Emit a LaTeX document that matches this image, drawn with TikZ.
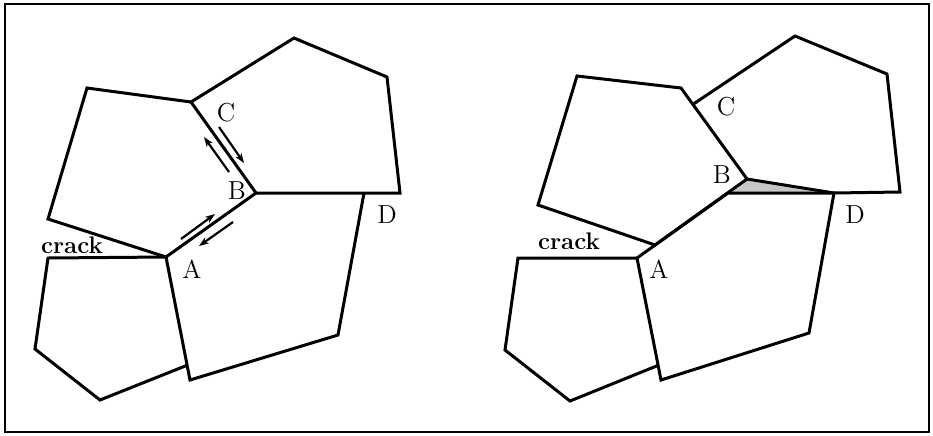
\documentclass[tikz,border=0pt]{standalone}
\usetikzlibrary{calc,arrows.meta}
\begin{document}
\begin{tikzpicture}[>={Stealth[length=5pt,width=3.6pt]}, x=0.5pt, y=-0.5pt,
  grain/.style={line width=1.5pt, line join=miter},
  slip/.style={->, line width=1.1pt},
  lbl/.style={font=\fontsize{13}{15}\selectfont, inner sep=0pt},
  crk/.style={font=\fontsize{12}{14}\selectfont\bfseries, inner sep=0pt}]
\useasboundingbox (0,0) rectangle (933,435);
\draw[line width=1.2pt] (5,4) rectangle (929,432);
% left panel: grains before sliding
\coordinate (lP1) at (87,88); \coordinate (lC) at (191,102); \coordinate (lB) at (256,193);
\coordinate (lA) at (166,257); \coordinate (lP5) at (48,219);
\coordinate (lQ1) at (294,38); \coordinate (lQ2) at (387,77); \coordinate (lQ3) at (400,193);
\coordinate (lD) at (364,193); \coordinate (lR1) at (338,335); \coordinate (lR2) at (190,380);
\coordinate (lK) at (48,258); \coordinate (lS1) at (35,349); \coordinate (lS2) at (100,400);
\coordinate (lS3) at ($(lA)!0.88!(lR2)$);
\draw[grain] (lP1)--(lC)--(lB)--(lA)--(lP5)--cycle;
\draw[grain] (lC)--(lQ1)--(lQ2)--(lQ3)--(lB);
\draw[grain] (lA)--(lR2)--(lR1)--(lD);
\draw[grain] (lA)--(lK)--(lS1)--(lS2)--(lS3);
\coordinate (s1a) at (229,172); \coordinate (s1b) at (204,137);
\coordinate (s2a) at (219,127); \coordinate (s2b) at (244,163);
\coordinate (s3a) at (181,239); \coordinate (s3b) at (215,214);
\coordinate (s4a) at (233,222); \coordinate (s4b) at (199,246);
\draw[slip] (s1a)--(s1b); \draw[slip] (s2a)--(s2b);
\draw[slip] (s3a)--(s3b); \draw[slip] (s4a)--(s4b);
\node[lbl] (lCt) at (226,113) {C}; \node[lbl] (lBt) at (237,191) {B};
\node[lbl] (lDt) at (387,215) {D}; \node[lbl] (lAt) at (192,269) {A};
\node[crk] (lcrack) at (72,245) {crack};
% right panel: grains after sliding
\coordinate (rP1) at (577,76); \coordinate (rP2) at (681,88); \coordinate (rB) at (747,179);
\coordinate (rP4) at (655,245); \coordinate (rP5) at (538,205);
\coordinate (rC) at ($(rP2)!0.18!(rB)$);
\coordinate (rQ1) at (795,36); \coordinate (rQ2) at (887,74); \coordinate (rQ3) at (900,192);
\coordinate (rA) at (637,258); \coordinate (rF) at (728,193); \coordinate (rD) at (834,193);
\coordinate (rR1) at (809,333); \coordinate (rR2) at (661,380);
\coordinate (rK) at (518,258); \coordinate (rS1) at (505,350); \coordinate (rS2) at (570,401);
\coordinate (rS3) at ($(rA)!0.88!(rR2)$);
\fill[gray!45] (rF)--(rB)--(rD)--cycle;
\draw[grain] (rP1)--(rP2)--(rB)--(rP4)--(rP5)--cycle;
\draw[grain] (rC)--(rQ1)--(rQ2)--(rQ3)--(rD)--(rB);
\draw[grain] (rA)--(rF)--(rD)--(rR1)--(rR2)--cycle;
\draw[grain] (rA)--(rK)--(rS1)--(rS2)--(rS3);
\node[lbl] (rCt) at (726,107) {C}; \node[lbl] (rBt) at (722,175) {B};
\node[lbl] (rDt) at (855,215) {D}; \node[lbl] (rAt) at (659,269) {A};
\node[crk] (rcrack) at (569,241) {crack};
\end{tikzpicture}
\end{document}
